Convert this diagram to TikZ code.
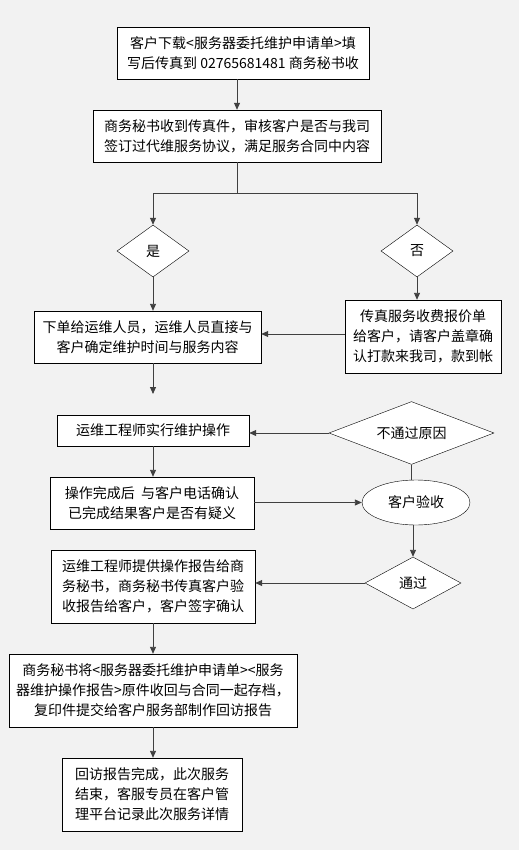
\documentclass[tikz,border=0pt]{standalone}
\usepackage{fontspec}
\setmainfont{Noto Sans CJK SC}
\usepackage{color}
\definecolor{mybackground}{RGB}{242,242,242}
\definecolor{myline}{RGB}{64,64,64}
\definecolor{myblack}{RGB}{0,0,0}
\definecolor{mywhite}{RGB}{255,255,255}
\usepackage{tikz}
\usetikzlibrary{arrows.meta,shapes.geometric}
\tikzstyle{mybox}=[draw=myblack,fill=mywhite,rectangle,align=center,inner sep=0pt]

\begin{document}
\begin{tikzpicture}[
  x=1pt,y=-1pt,
  font=\fontsize{14}{20}\selectfont,
  mydiamond/.style={
    draw=myblack,
    fill=mywhite,
    diamond,
    aspect=1.4,
    inner sep=0pt
    },
  myellipse/.style={
    draw=myblack,
    fill=mywhite,
    ellipse,
    inner sep=0pt
    },
  myarrow/.style={
    draw=myline,
    line width=0.9pt,
    -{Triangle[width=6pt,length=7pt]}
    },
  myline/.style={
    draw=myline,
    line width=0.9pt
    }
]
\fill[mybackground] (0,0) rectangle (519,850);
\useasboundingbox (0,0) rectangle (519,850);

\node[mybox, minimum width=252pt, minimum height=52pt] (apply) at (243,53)
  {客户下载<服务器委托维护申请单>填\\写后传真到 02765681481 商务秘书收};
\node[mybox, minimum width=288pt, minimum height=52pt] (audit) at (237,136)
  {商务秘书收到传真件，审核客户是否与我司\\签订过代维服务协议，满足服务合同中内容};

\node[mydiamond, minimum width=72pt, minimum height=52pt] (yes) at (153,251) {是};
\node[mydiamond, minimum width=72pt, minimum height=52pt] (no) at (417,251) {否};
\coordinate (split) at (237,193);

\node[mybox, minimum width=227pt, minimum height=52pt] (order) at (147.5,337)
  {下单给运维人员，运维人员直接与\\客户确定维护时间与服务内容};
\node[mybox, minimum width=156pt, minimum height=73pt] (quote) at (423,336.5)
  {传真服务收费报价单\\给客户，请客户盖章确\\认打款来我司，款到帐};
\coordinate (orderend) at (153,394);

\node[mybox, minimum width=192pt, minimum height=31pt] (operate) at (153,430.5)
  {运维工程师实行维护操作};
\node[mydiamond, minimum width=165pt, minimum height=52pt] (fail) at (411.5,433) {不通过原因};
\node[mybox, minimum width=204pt, minimum height=52pt] (confirm) at (152,503)
  {操作完成后\ \ 与客户电话确认\\已完成结果客户是否有疑义};
\node[myellipse, minimum width=108pt, minimum height=45pt] (check) at (416,502.5) {客户验收};

\node[mydiamond, minimum width=96pt, minimum height=52pt] (pass) at (413,583) {通过};
\node[mybox, minimum width=204pt, minimum height=73pt] (report) at (153,586.5)
  {运维工程师提供操作报告给商\\务秘书，商务秘书传真客户验\\收报告给客户，客户签字确认};

\node[mybox, minimum width=288pt, minimum height=73pt] (archive) at (153,690.5)
  {商务秘书将<服务器委托维护申请单><服务\\器维护操作报告>原件收回与合同一起存档，\\复印件提交给客户服务部制作回访报告};
\node[mybox, minimum width=180pt, minimum height=73pt] (finish) at (152,794.5)
  {回访报告完成，此次服务\\结束，客服专员在客户管\\理平台记录此次服务详情};

% connectors
\draw[myarrow] (audit.north |- apply.south) -- (audit.north);
\draw[myline] (audit.south) -- (split);
\draw[myarrow] (split) -| (yes.north);
\draw[myarrow] (split) -| (no.north);
\draw[myarrow] (yes.south) -- (yes.south |- order.north);
\draw[myarrow] (no.south) -- (no.south |- quote.north);
\draw[myarrow] ([yshift=2.5pt]quote.west) -- ([yshift=2.5pt]quote.west -| order.east);
\draw[myarrow] (orderend |- order.south) -- (orderend);

\draw[myarrow] (fail.west) -- (fail.west -| operate.east);
\draw[myarrow] (operate.south) -- (operate.south |- confirm.north);
\draw[myarrow] (check.west -| confirm.east) -- (check.west);
\draw[myline] (fail.south) -- (fail.south |- check.north);
\draw[myarrow] (check.south -| pass.north) -- (pass.north);
\draw[myarrow] (pass.west) -- (pass.west -| report.east);

\draw[myarrow] (report.south) -- (report.south |- archive.north);
\draw[myarrow] (archive.south) -- (archive.south |- finish.north);

\end{tikzpicture}
\end{document}
